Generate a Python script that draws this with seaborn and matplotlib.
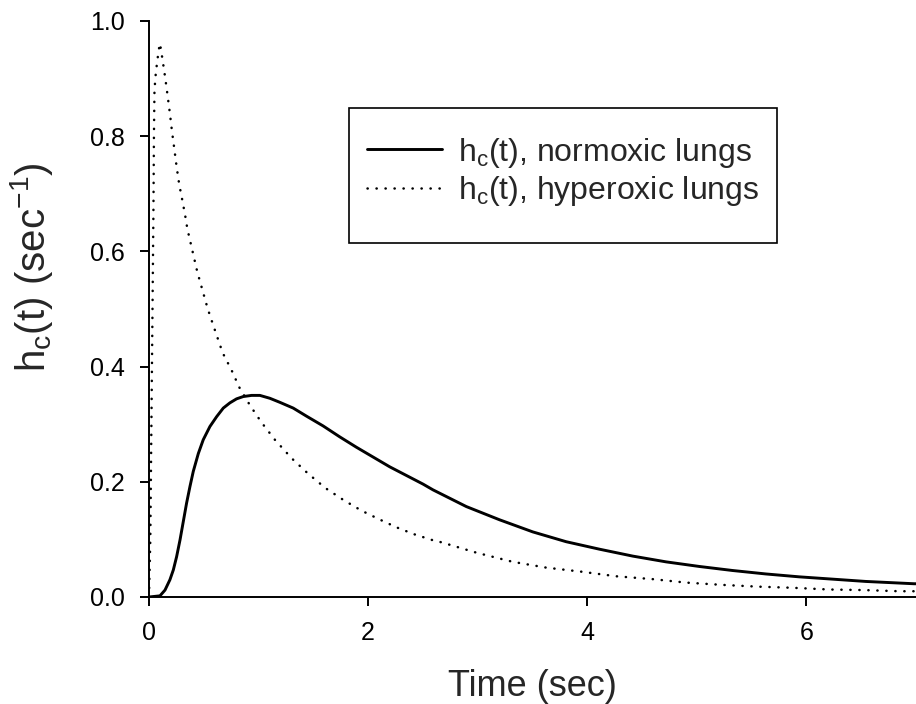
import numpy as np
import pandas as pd
import seaborn as sns
import matplotlib.pyplot as plt
from matplotlib.patches import Rectangle

# values (time in sec, h_c(t) in 1/sec)
t_normoxic = [0.0, 0.10, 0.146, 0.191, 0.222, 0.252, 0.283, 0.313, 0.343, 0.374,
              0.404, 0.450, 0.495, 0.556, 0.617, 0.678, 0.738, 0.799, 0.860, 0.936,
              1.012, 1.103, 1.194, 1.316, 1.437, 1.589, 1.741, 1.893, 2.045, 2.197,
              2.349, 2.501, 2.592, 2.896, 3.200, 3.503, 3.807, 4.111, 4.415, 4.719,
              5.023, 5.326, 5.630, 5.934, 6.238, 6.542, 6.983, 7.0]
h_normoxic = [0.0, 0.002, 0.012, 0.030, 0.047, 0.070, 0.099, 0.131, 0.163, 0.192,
              0.218, 0.249, 0.273, 0.296, 0.313, 0.328, 0.337, 0.344, 0.348, 0.350,
              0.350, 0.345, 0.338, 0.328, 0.314, 0.297, 0.278, 0.260, 0.243, 0.226,
              0.211, 0.196, 0.186, 0.157, 0.134, 0.113, 0.096, 0.083, 0.071, 0.061,
              0.053, 0.046, 0.040, 0.035, 0.031, 0.027, 0.023, 0.023]

t_hyperoxic = [0.0, 0.012, 0.022, 0.032, 0.040, 0.045, 0.050, 0.060, 0.070, 0.080,
               0.091, 0.100, 0.112, 0.125, 0.149, 0.170, 0.191, 0.210, 0.231, 0.252,
               0.276, 0.307, 0.337, 0.349, 0.44, 0.535, 0.586, 0.672, 0.753, 0.824,
               0.921, 1.027, 1.149, 1.301, 1.453, 1.611, 1.778, 1.939, 2.100, 2.258,
               2.419, 2.583, 2.668, 2.987, 3.321, 3.625, 3.944, 4.263, 4.597, 4.901,
               5.235, 5.554, 5.873, 6.208, 6.527, 6.846, 7.0]
h_hyperoxic = [0.0, 0.10, 0.30, 0.50, 0.66, 0.80, 0.88, 0.905, 0.922, 0.937,
               0.952, 0.961, 0.947, 0.931, 0.900, 0.870, 0.839, 0.808, 0.778, 0.747,
               0.716, 0.686, 0.655, 0.640, 0.565, 0.501, 0.472, 0.424, 0.394, 0.364,
               0.333, 0.303, 0.273, 0.241, 0.214, 0.189, 0.168, 0.150, 0.135, 0.121,
               0.109, 0.099, 0.095, 0.077, 0.061, 0.051, 0.044, 0.036, 0.031, 0.025,
               0.021, 0.018, 0.016, 0.013, 0.012, 0.010, 0.010]

x_ticks = [0, 2, 4, 6]
y_ticks = [0.0, 0.2, 0.4, 0.6, 0.8, 1.0]

label_norm = 'h$_\\mathregular{c}$(t), normoxic lungs'
label_hyper = 'h$_\\mathregular{c}$(t), hyperoxic lungs'


def setup_style():
    sns.set_style('ticks')
    plt.rcParams['font.family'] = ['Liberation Sans', 'DejaVu Sans']
    plt.rcParams['mathtext.fontset'] = 'custom'
    plt.rcParams['mathtext.rm'] = 'Liberation Sans'
    plt.rcParams['mathtext.it'] = 'Liberation Sans:italic'


def make_plot():
    fig = plt.figure(figsize=(9.16, 7.04), dpi=100)
    ax = fig.add_axes([149 / 916, 107 / 704, 767 / 916, 576 / 704])

    sns.lineplot(x=t_normoxic, y=h_normoxic, ax=ax, color='black',
                 linewidth=2.1, label=label_norm, sort=False)
    sns.lineplot(x=t_hyperoxic, y=h_hyperoxic, ax=ax, color='black',
                 linewidth=1.8, linestyle=(0, (0.1, 3.5)),
                 dash_capstyle='round', label=label_hyper, sort=False)

    ax.set_xlim(0, 7)
    ax.set_ylim(0, 1.0)
    ax.set_xticks(x_ticks)
    ax.set_xticklabels([str(v) for v in x_ticks])
    ax.set_yticks(y_ticks)
    ax.set_yticklabels([f'{v:.1f}' for v in y_ticks])

    sns.despine(ax=ax)
    for side in ['left', 'bottom']:
        ax.spines[side].set_linewidth(1.4)
        ax.spines[side].set_color('black')
    ax.tick_params(direction='out', length=6.5, width=1.4, colors='black',
                   labelsize=18)
    ax.tick_params(axis='x', pad=11)
    ax.tick_params(axis='y', pad=11)

    ax.set_xlabel('Time (sec)', fontsize=26)
    ax.xaxis.set_label_coords(0.5, -0.125)
    ax.set_ylabel('h$_\\mathregular{c}$(t) (sec$^{\\mathregular{-1}}$)',
                  fontsize=29)
    ax.yaxis.set_label_coords(-0.122, 0.573)

    # legend box drawn separately so its padding can match the original
    ax.add_patch(Rectangle((0.261, 0.615), 0.558, 0.234, transform=ax.transAxes,
                           facecolor='white', edgecolor='black', linewidth=1.2,
                           zorder=4))
    leg = ax.legend(loc='upper left', bbox_to_anchor=(0.284, 0.801),
                    borderaxespad=0, borderpad=0, frameon=False, fontsize=23,
                    handlelength=2.35, handletextpad=0.5, labelspacing=0.15)
    leg.set_zorder(5)

    fig.savefig('out.png', dpi=100)
    plt.close(fig)


def main():
    setup_style()
    make_plot()


if __name__ == '__main__':
    main()
